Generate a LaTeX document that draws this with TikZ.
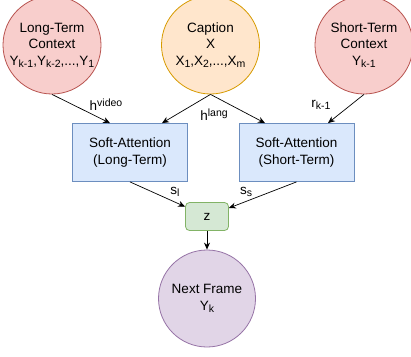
\documentclass[tikz,border=0pt]{standalone}
\usepackage{fontspec}
\setmainfont{Liberation Sans}
\usepackage{tikz}
\usetikzlibrary{arrows.meta}
\definecolor{ctxfill}{HTML}{F8CECC}
\definecolor{ctxline}{HTML}{B85450}
\definecolor{capfill}{HTML}{FFE6CC}
\definecolor{capline}{HTML}{D79B00}
\definecolor{attfill}{HTML}{DAE8FC}
\definecolor{attline}{HTML}{6C8EBF}
\definecolor{zfill}{HTML}{D5E8D4}
\definecolor{zline}{HTML}{82B366}
\definecolor{nxtfill}{HTML}{E1D5E7}
\definecolor{nxtline}{HTML}{9673A6}
\newcommand{\lo}[1]{\raisebox{-0.3ex}{\fontsize{10.5}{10.5}\selectfont #1}}
\newcommand{\up}[1]{\raisebox{0.55ex}{\fontsize{10.5}{10.5}\selectfont #1}}

\begin{document}
\begin{tikzpicture}[x=1pt, y=-1pt,
		txt/.style={align=center, font=\fontsize{13.5}{16.5}\selectfont},
		circ/.style={txt, circle, draw, line width=0.8pt, inner sep=0pt, minimum size=98pt},
		att/.style={txt, rectangle, draw=attline, fill=attfill, line width=0.8pt, minimum width=115pt, minimum height=58pt},
		arr/.style={-{Stealth[length=7pt, width=6pt]}, line width=0.7pt}]
		\useasboundingbox (0,0) rectangle (411,356);

		\node[circ, draw=ctxline, fill=ctxfill] (long) at (52,45) {Long-Term\\Context\\Y\lo{k-1},Y\lo{k-2},...,Y\lo{1}};
		\node[circ, draw=capline, fill=capfill] (cap) at (210.5,45) {Caption\\X\\X\lo{1},X\lo{2},...,X\lo{m}};
		\node[circ, draw=ctxline, fill=ctxfill] (short) at (364,45) {Short-Term\\Context\\Y\lo{k-1}};

		\node[att] (attlong) at (130,152.5) {Soft-Attention\\(Long-Term)};
		\node[att] (attshort) at (296.5,152.5) {Soft-Attention\\(Short-Term)};

		\node[txt, draw=zline, fill=zfill, line width=0.8pt, rounded corners=4pt, minimum width=43pt, minimum height=28pt] (z) at (207,216.5) {z};
		\node[circ, draw=nxtline, fill=nxtfill, minimum size=97pt] (next) at (207,298.5) {Next Frame\\Y\lo{k}};

		\draw[arr] (long.south) -- ([xshift=-20pt]attlong.north);
		\draw[arr] (cap.south) -- ([xshift=32pt]attlong.north);
		\draw[arr] (cap.south) -- ([xshift=-31.5pt]attshort.north);
		\draw[arr] (short.south) -- ([xshift=31.5pt]attshort.north);
		\draw[arr] (attlong.south) -- (z);
		\draw[arr] (attshort.south) -- (z);
		\draw[arr] (z) -- (next);

		\node[txt] (hvideo) at (106,105) {h\up{video}};
		\node[txt] (hlang) at (214,115) {h\up{lang}};
		\node[txt] (rprev) at (321,105) {r\lo{k-1}};
		\node[txt] (sl) at (175,192) {s\lo{l}};
		\node[txt] (ss) at (246,192) {s\lo{s}};
	\end{tikzpicture}
\end{document}
